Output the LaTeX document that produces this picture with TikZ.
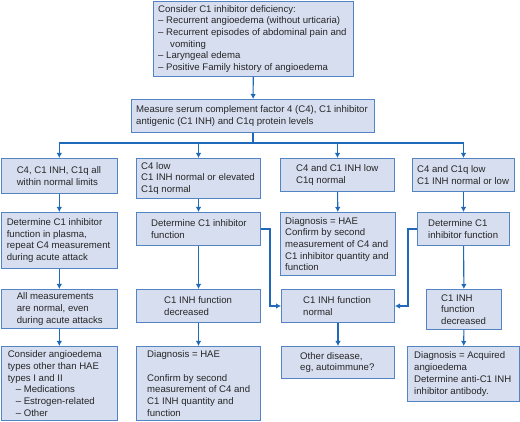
\documentclass[tikz,border=0pt]{standalone}
\usepackage{fontspec}
\setmainfont{Liberation Sans}
\usetikzlibrary{arrows.meta}
\definecolor{boxfill}{RGB}{214,222,240}
\definecolor{boxdraw}{RGB}{82,132,196}
\definecolor{linecol}{RGB}{30,105,185}
\tikzset{
  flowbox/.style={draw=boxdraw, fill=boxfill, line width=1pt, inner sep=0pt, rectangle},
  txt/.style={align=left, inner sep=0pt, font=\fontsize{9.6}{11.7}\selectfont, text=black!85},
  conn/.style={draw=linecol, line width=1.1pt, -{Latex[length=5pt,width=5.5pt]}},
}
\newcommand{\flowbx}[7]{%
  \node[flowbox, anchor=north west, minimum width={#4-#2}, minimum height={#5-#3}] (#1) at (#2,#3) {};
  \node[txt, anchor=west] (#1t) at ([xshift=#6pt]#1.west) {#7};
}
\begin{document}
\begin{tikzpicture}[x=1pt,y=-1pt]
\useasboundingbox (0,0) rectangle (520,422);
% top
\flowbx{T}{153}{0.6}{353}{76}{5}{Consider C1 inhibitor deficiency:\\– Recurrent angioedema (without urticaria)\\– Recurrent episodes of abdominal pain and\\\hspace*{12pt}vomiting\\– Laryngeal edema\\– Positive Family history of angioedema}
\flowbx{M}{131}{99}{374}{132}{5}{Measure serum complement factor 4 (C4), C1 inhibitor\\antigenic (C1 INH) and C1q protein levels}
% row 1
\flowbx{A1}{0.6}{158}{117}{193}{16}{C4, C1 INH, C1q all\\within normal limits}
\flowbx{B1}{136}{158}{260}{198}{5}{C4 low\\C1 INH normal or elevated\\C1q normal}
\flowbx{C1}{280}{158}{394}{191}{16}{C4 and C1 INH low\\C1q normal}
\flowbx{D1}{412}{158}{514}{191}{5}{C4 and C1q low\\C1 INH normal or low}
% row 2
\flowbx{A2}{0.6}{212}{117}{268}{6}{Determine C1 inhibitor\\function in plasma,\\repeat C4 measurement\\during acute attack}
\flowbx{B2}{136}{212}{260}{245}{15}{Determine C1 inhibitor\\function}
\flowbx{C2}{280}{212}{395}{275}{5}{Diagnosis = HAE\\Confirm by second\\measurement of C4 and\\C1 inhibitor quantity and\\function}
\flowbx{D2}{417}{212}{509}{245}{11}{Determine C1\\inhibitor function}
% row 3
\flowbx{A3}{0.6}{289}{117}{328}{16}{All measurements\\are normal, even\\during acute attacks}
\flowbx{B3}{136}{289}{260}{322}{28}{C1 INH function\\decreased}
\flowbx{C3}{281}{289}{394}{322}{22}{C1 INH function\\normal}
\flowbx{D3}{426}{289}{501}{329}{15}{C1 INH\\function\\decreased}
% row 4
\flowbx{A4}{0.6}{346}{117}{420}{7}{Consider angioedema\\types other than HAE\\types I and II\\\hspace*{8pt}– Medications\\\hspace*{8pt}– Estrogen-related\\\hspace*{8pt}– Other}
\flowbx{B4}{136}{346}{260}{420}{11}{Diagnosis = HAE\\[11.7pt]Confirm by second\\measurement of C4 and\\C1 INH quantity and\\function}
\flowbx{C4}{281}{346}{394}{378}{19}{Other disease,\\eg, autoimmune?}
\flowbx{D4}{407}{346}{519}{401}{7}{Diagnosis = Acquired\\angioedema\\Determine anti-C1 INH\\inhibitor antibody.}
% connectors
\draw[conn] (T) -- (M);
\draw[conn] (M.south) |- ([yshift=15pt]A1.north) -- (A1.north);
\draw[conn] (M.south) |- ([yshift=15pt]B1.north) -- (B1.north);
\draw[conn] (M.south) |- ([yshift=15pt]C1.north) -- (C1.north);
\draw[conn] (M.south) |- ([yshift=15pt]D1.north) -- (D1.north);
\draw[conn] (A1) -- (A2);
\draw[conn] (A2) -- (A3);
\draw[conn] (A3) -- (A4);
\draw[conn] (B1) -- (B2);
\draw[conn] (B2) -- (B3);
\draw[conn] (B3) -- (B4);
\draw[conn] (C1) -- (C2);
\draw[conn] (C3) -- (C4);
\draw[conn] (D1) -- (D2);
\draw[conn] (D2) -- (D3);
\draw[conn] (D3) -- (D4);
\draw[conn] (B2.east) -- ++(9,0) |- (C3.west);
\draw[conn] (D2.west) -- ++(-9,0) |- (C3.east);
\end{tikzpicture}
\end{document}
